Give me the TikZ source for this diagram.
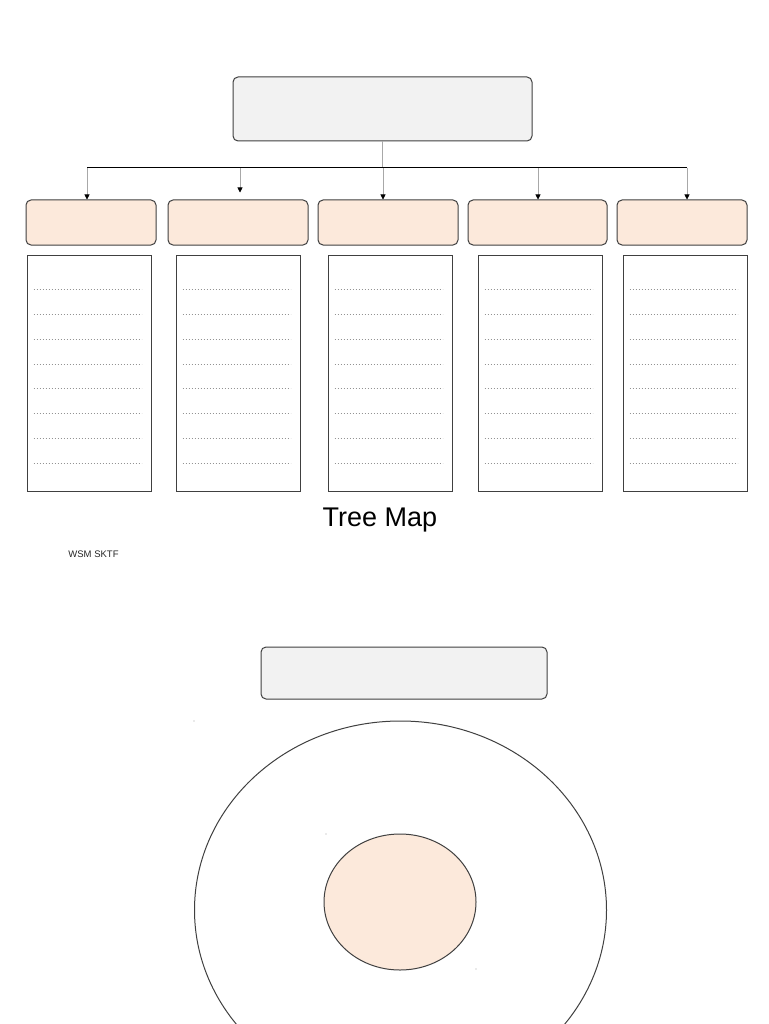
\documentclass[tikz,border=0pt]{standalone}
\usepackage{fontspec}
\setmainfont{Liberation Sans}
\usetikzlibrary{arrows.meta,shapes.geometric}
\definecolor{peach}{HTML}{FCE9DB}
\definecolor{boxgray}{HTML}{F2F2F2}
\definecolor{edge}{HTML}{404040}
\definecolor{lightline}{HTML}{A8A8A8}
\tikzset{
  topbox/.style={draw=edge, line width=1pt, fill=boxgray, rounded corners=5pt, inner sep=0pt},
  catbox/.style={draw=edge, line width=1pt, fill=peach, rounded corners=5pt, inner sep=0pt, minimum height=45pt},
  listbox/.style={draw=edge, line width=1pt, fill=white, inner sep=0pt, minimum width=124pt, minimum height=236pt},
  dotline/.style={draw=gray!85, line width=0.7pt, dash pattern=on 1.2pt off 1.8pt},
  branch/.style={draw=lightline, line width=0.7pt, -{Triangle[length=5pt,width=5pt,color=black]}},
  speck/.style={fill=gray!70, draw=none}
}
\begin{document}
\begin{tikzpicture}[x=1pt,y=-1pt]
\path[use as bounding box] (0,0) rectangle (768,1024);
\clip (0,0) rectangle (768,1024);
\fill[white] (0,0) rectangle (768,1024);

% top box
\node[topbox, minimum width=299pt, minimum height=64pt] (top) at (382.5,109) {};

% category boxes
\node[catbox, minimum width=130pt] (cat1) at (91,222.5) {};
\node[catbox, minimum width=140pt] (cat2) at (238,222.5) {};
\node[catbox, minimum width=140pt] (cat3) at (388,222.5) {};
\node[catbox, minimum width=139pt] (cat4) at (537.5,222.5) {};
\node[catbox, minimum width=130pt] (cat5) at (682,222.5) {};

% branch line
\coordinate (h0) at (382,168);
\coordinate (h1) at (87,168);
\coordinate (h2) at (240,168);
\coordinate (h3) at (383,168);
\coordinate (h4) at (538,168);
\coordinate (h5) at (687,168);
\draw[draw=lightline, line width=0.7pt] (top.south -| h0) -- (h0);
\draw[black, line width=1pt] (h1) -- (h5);
\draw[branch] (h1) -- (h1 |- cat1.north);
\draw[branch] (h2) -- ([yshift=7pt]h2 |- cat2.north);
\draw[branch] (h3) -- (h3 |- cat3.north);
\draw[branch] (h4) -- (h4 |- cat4.north);
\draw[branch] (h5) -- (h5 |- cat5.north);

% list boxes
\foreach \i/\cx in {1/89,2/238,3/390,4/540,5/685}{
  \node[listbox] (list\i) at (\cx,373) {};
  \foreach \yy in {289,314,339,364,388,413,438,463}{
    \draw[dotline] ([xshift=7pt]list\i.west |- 0,\yy) -- ([xshift=-10pt]list\i.east |- 0,\yy);
  }
}

% captions
\node[font=\fontsize{27}{30}\selectfont, inner sep=0pt] (title) at (380,520) {Tree Map};
\node[font=\fontsize{9.5}{11}\selectfont, text=black!85, inner sep=0pt] (credit) at (93.5,554) {WSM SKTF};

% second part
\node[topbox, minimum width=286pt, minimum height=52pt] (top2) at (404,673) {};
\node[ellipse, draw=edge, line width=1pt, fill=white, minimum width=412pt, minimum height=378pt, inner sep=0pt] (outer) at (400.5,910) {};
\node[ellipse, draw=edge, line width=1pt, fill=peach, minimum width=152pt, minimum height=136pt, inner sep=0pt] (inner) at (400,902) {};

% specks
\fill[speck] (194,721) circle (0.7pt);
\fill[speck] (326,834) circle (0.6pt);
\fill[speck] (476,969) circle (0.6pt);
\end{tikzpicture}
\end{document}
